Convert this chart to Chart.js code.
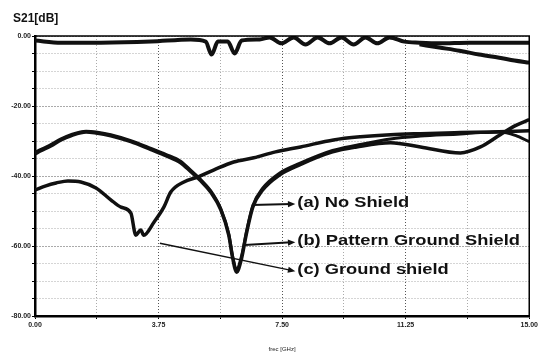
<!DOCTYPE html>
<html>
<head>
<meta charset="utf-8">
<script src="https://cdn.jsdelivr.net/npm/chart.js@4.4.1/dist/chart.umd.min.js"></script>
<style>
  html,body{margin:0;padding:0;background:#fff}
  #wrap{position:relative;width:540px;height:353px}
</style>
</head>
<body>
<div id="wrap"><canvas id="c" width="540" height="353"></canvas></div>
<script>
// frequency [GHz] / S21 [dB]
const freqMain = [0, 0.18, 0.48, 0.79, 1.09, 1.55, 1.85, 2.30, 2.91, 3.52, 3.97, 4.42, 4.73, 5.03, 5.33, 5.64, 5.88, 6.00, 6.12, 6.27, 6.42, 6.61, 6.91, 7.42, 8.03, 9.03, 9.76, 10.79, 11.70, 12.91, 13.52, 14.12, 14.58, 15.0];
const noShield = [-33.7, -32.8, -31.4, -29.7, -28.5, -27.4, -27.7, -28.5, -30.2, -32.5, -34.2, -36.2, -38.8, -41.4, -44.6, -49.7, -56.9, -63.5, -67.5, -63.5, -56.3, -48.9, -44.0, -39.7, -36.8, -33.1, -31.7, -30.5, -31.7, -33.4, -31.7, -28.2, -25.6, -23.9];
const patternShield = [-33.2, -32.4, -31.0, -29.4, -28.2, -27.2, -27.4, -28.2, -29.9, -32.1, -33.8, -35.8, -38.4, -41.0, -44.2, -49.4, -56.5, -63.0, -66.5, -62.8, -55.8, -48.5, -43.5, -39.2, -36.4, -32.7, -31.2, -29.4, -28.6, -28.0, -27.6, -27.4, -28.4, -30.2];

const freqGnd = [0, 0.33, 0.64, 1.0, 1.39, 1.85, 2.30, 2.61, 2.91, 3.06, 3.21, 3.30, 3.61, 3.91, 4.12, 4.52, 4.94, 5.42, 6.03, 6.64, 7.30, 8.06, 9.06, 9.88, 10.79, 11.70, 12.91, 13.82, 15.0];
const groundShield = [-44.0, -42.8, -42.0, -41.4, -41.7, -43.4, -46.8, -48.9, -50.6, -56.9, -55.4, -56.9, -53.2, -48.9, -44.6, -41.7, -40.3, -38.3, -36.0, -34.8, -33.1, -31.7, -29.7, -28.8, -28.2, -27.9, -27.6, -27.4, -27.1];

// traces near 0 dB at the top of the plot
const freqTop = [0, 0.79, 2.0, 3.52, 4.73, 5.18, 5.36, 5.55, 5.85, 6.06, 6.27, 6.82, 7.12, 7.48, 7.85, 8.21, 8.58, 8.94, 9.30, 9.67, 10.03, 10.39, 10.76, 11.21, 11.67, 12.27, 13.18, 14.09, 15.0];
const topFlat = [-1.3, -1.9, -1.9, -1.6, -1.0, -1.6, -5.3, -1.6, -1.6, -5.0, -1.3, -1.0, -0.4, -2.1, -0.4, -2.4, -0.4, -2.1, -0.4, -2.4, -0.4, -2.1, -0.4, -1.6, -1.9, -2.1, -1.9, -1.9, -1.9];
const freqDrop = [11.67, 12.27, 12.88, 13.48, 14.09, 14.55, 15.0];
const topDrop = [-2.4, -3.3, -4.2, -5.3, -6.2, -7.0, -7.6];

// callouts: label, arrow tail (on curve), arrow head (at label)
const noteText = ['(a) No Shield', '(b) Pattern Ground Shield', '(c) Ground shield'];
const noteTail = [[6.58, -48.3], [6.36, -59.7], [3.79, -59.2]];
const noteHead = [[7.9, -48.0], [7.9, -58.9], [7.9, -67.2]];

const pts = (xs, ys) => xs.map((f, i) => ({ x: f, y: ys[i] }));

const frame = {
  id: 'frame',
  afterDraw(chart) {
    const { ctx, chartArea: a } = chart;
    ctx.save();
    ctx.strokeStyle = '#000';
    ctx.lineWidth = 1.5;
    ctx.beginPath();
    ctx.moveTo(a.left, a.top); ctx.lineTo(a.right, a.top); ctx.lineTo(a.right, a.bottom);
    ctx.stroke();
    ctx.fillStyle = '#111';
    ctx.font = 'bold 12px Arial, "Liberation Sans", sans-serif';
    ctx.textBaseline = 'middle';
    ctx.fillText('S21[dB]', 13, 19);
    ctx.restore();
  }
};

const notes = {
  id: 'notes',
  afterDatasetsDraw(chart) {
    const { ctx, scales: { x, y } } = chart;
    ctx.save();
    ctx.strokeStyle = '#111';
    ctx.fillStyle = '#111';
    noteText.forEach((t, i) => {
      const x0 = x.getPixelForValue(noteTail[i][0]), y0 = y.getPixelForValue(noteTail[i][1]);
      const x1 = x.getPixelForValue(noteHead[i][0]), y1 = y.getPixelForValue(noteHead[i][1]);
      ctx.lineWidth = i === 2 ? 1.5 : 2;
      ctx.beginPath(); ctx.moveTo(x0, y0); ctx.lineTo(x1 - 4, y1 - (y1 - y0) * 4 / (x1 - x0)); ctx.stroke();
      const ang = Math.atan2(y1 - y0, x1 - x0);
      ctx.beginPath();
      ctx.moveTo(x1, y1);
      ctx.lineTo(x1 - 8 * Math.cos(ang - 0.4), y1 - 8 * Math.sin(ang - 0.4));
      ctx.lineTo(x1 - 8 * Math.cos(ang + 0.4), y1 - 8 * Math.sin(ang + 0.4));
      ctx.closePath(); ctx.fill();
      // scanned labels are wide: stretch horizontally
      ctx.save();
      ctx.translate(x1 + 2, y1 - 1);
      ctx.scale(1.22, 1);
      ctx.font = 'bold 15px Arial, "Liberation Sans", sans-serif';
      ctx.textBaseline = 'middle';
      ctx.fillText(t, 0, 0);
      ctx.restore();
    });
    ctx.restore();
  }
};

const line = (data, w) => ({ data, borderColor: '#111', borderWidth: w, pointRadius: 0, fill: false, cubicInterpolationMode: 'monotone' });

new Chart(document.getElementById('c'), {
  type: 'line',
  data: {
    datasets: [
      line(pts(freqTop, topFlat), 4),
      line(pts(freqDrop, topDrop), 4),
      line(pts(freqMain, noShield), 3.5),
      line(pts(freqMain, patternShield), 3),
      line(pts(freqGnd, groundShield), 3.5),
    ]
  },
  options: {
    responsive: false,
    animation: false,
    layout: { padding: { top: 36, right: 10, left: 0, bottom: 0 } },
    plugins: { legend: { display: false }, tooltip: { enabled: false } },
    scales: {
      x: {
        type: 'linear', min: 0, max: 15,
        afterFit: s => { s.height = 37; },
        ticks: {
          stepSize: 1.875, autoSkip: false, maxRotation: 0, padding: 2, color: '#222',
          font: { size: 7, weight: 'bold', family: 'Arial' },
          callback: v => (Math.abs(v % 3.75) < 1e-6 ? v.toFixed(2) : '')
        },
        grid: { color: c => (c.tick && Math.abs(c.tick.value % 3.75) < 1e-6 ? '#555' : '#aaa'), lineWidth: 1, tickLength: 3, tickColor: '#000' },
        border: { color: '#000', width: 2.5, dash: [1, 2] },
        title: { display: true, text: 'frec [GHz]', color: '#222', font: { size: 6, family: 'Arial' }, padding: { top: 3, bottom: 0 } }
      },
      y: {
        min: -80, max: 0,
        afterFit: s => { s.width = 35; },
        ticks: {
          stepSize: 5, autoSkip: false, padding: 1, color: '#222',
          font: { size: 7, weight: 'bold', family: 'Arial' },
          callback: v => (v % 20 === 0 ? v.toFixed(2) : '')
        },
        grid: { color: c => (c.tick && c.tick.value % 20 === 0 ? '#555' : '#aaa'), lineWidth: 1, tickLength: 3, tickColor: '#000' },
        border: { color: '#000', width: 2.5, dash: [1, 2] }
      }
    }
  },
  plugins: [frame, notes]
});
</script>
</body>
</html>
